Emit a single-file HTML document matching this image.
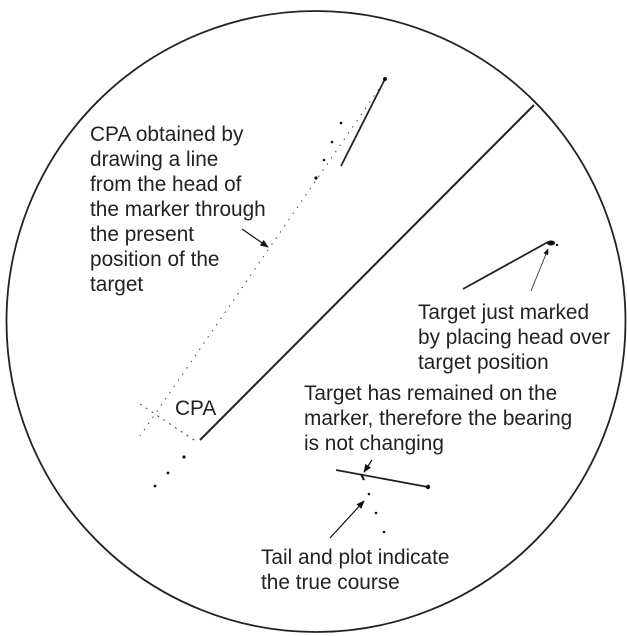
<!DOCTYPE html>
<html><head><style>
body{margin:0;background:#fff;width:627px;height:636px;overflow:hidden;}
svg{display:block}
text{font-family:"Liberation Sans",Arial,sans-serif;font-size:20.8px;fill:#222}
</style></head><body>
<svg width="627" height="636" viewBox="0 0 627 636">
<defs><marker id="a" viewBox="0 0 10 10" refX="9" refY="5" markerWidth="7" markerHeight="7" orient="auto"><path d="M0,1 L10,5 L0,9 z" fill="#111"/></marker></defs>
<ellipse cx="316" cy="321.5" rx="309.5" ry="310.5" fill="none" stroke="#222" stroke-width="1.8"/>
<line x1="200" y1="440" x2="534" y2="105" stroke="#222" stroke-width="2"/>
<line x1="385" y1="79" x2="341" y2="166" stroke="#222" stroke-width="1.8"/>
<circle cx="385" cy="79" r="2" fill="#111"/>
<line x1="383" y1="83" x2="140" y2="436" stroke="#444" stroke-width="1" stroke-dasharray="1.5,6"/>
<line x1="140" y1="404" x2="197" y2="442" stroke="#444" stroke-width="1" stroke-dasharray="2,5"/>
<circle cx="341" cy="123" r="1.3" fill="#111"/><circle cx="332" cy="142" r="1.3" fill="#111"/><circle cx="324" cy="160" r="1.3" fill="#111"/><circle cx="316" cy="178" r="1.6" fill="#111"/>
<circle cx="184" cy="457" r="1.6" fill="#111"/><circle cx="168" cy="473" r="1.4" fill="#111"/><circle cx="155" cy="486" r="1.4" fill="#111"/>
<line x1="242" y1="229" x2="268" y2="247" stroke="#111" stroke-width="1.2" marker-end="url(#a)"/>
<line x1="463" y1="289" x2="548" y2="242" stroke="#222" stroke-width="1.8"/>
<ellipse cx="551" cy="243" rx="4" ry="2.5" fill="#111"/><circle cx="557" cy="245" r="1.2" fill="#111"/>
<line x1="531" y1="291" x2="548" y2="249" stroke="#333" stroke-width="0.9" marker-end="url(#a)"/>
<line x1="336" y1="470" x2="428" y2="487" stroke="#222" stroke-width="1.8"/>
<circle cx="428" cy="487" r="2.2" fill="#111"/>
<path d="M361,474 l3,6" stroke="#111" stroke-width="2"/>
<line x1="372" y1="460" x2="364" y2="472" stroke="#111" stroke-width="1.2" marker-end="url(#a)"/>
<circle cx="369" cy="494" r="1.3" fill="#111"/><circle cx="376" cy="513" r="1.3" fill="#111"/><circle cx="384" cy="532" r="1.3" fill="#111"/>
<line x1="330" y1="538" x2="364" y2="501" stroke="#111" stroke-width="1.2" marker-end="url(#a)"/>
<text x="90" y="141">CPA obtained by</text>
<text x="90" y="166">drawing a line</text>
<text x="90" y="191">from the head of</text>
<text x="90" y="216">the marker through</text>
<text x="90" y="241">the present</text>
<text x="90" y="266">position of the</text>
<text x="90" y="291">target</text>
<text x="175" y="415">CPA</text>
<text x="418" y="319">Target just marked</text>
<text x="418" y="344">by placing head over</text>
<text x="418" y="369">target position</text>
<text x="304" y="400">Target has remained on the</text>
<text x="304" y="425">marker, therefore the bearing</text>
<text x="304" y="450">is not changing</text>
<text x="261" y="564">Tail and plot indicate</text>
<text x="261" y="589">the true course</text>
</svg>
</body></html>
